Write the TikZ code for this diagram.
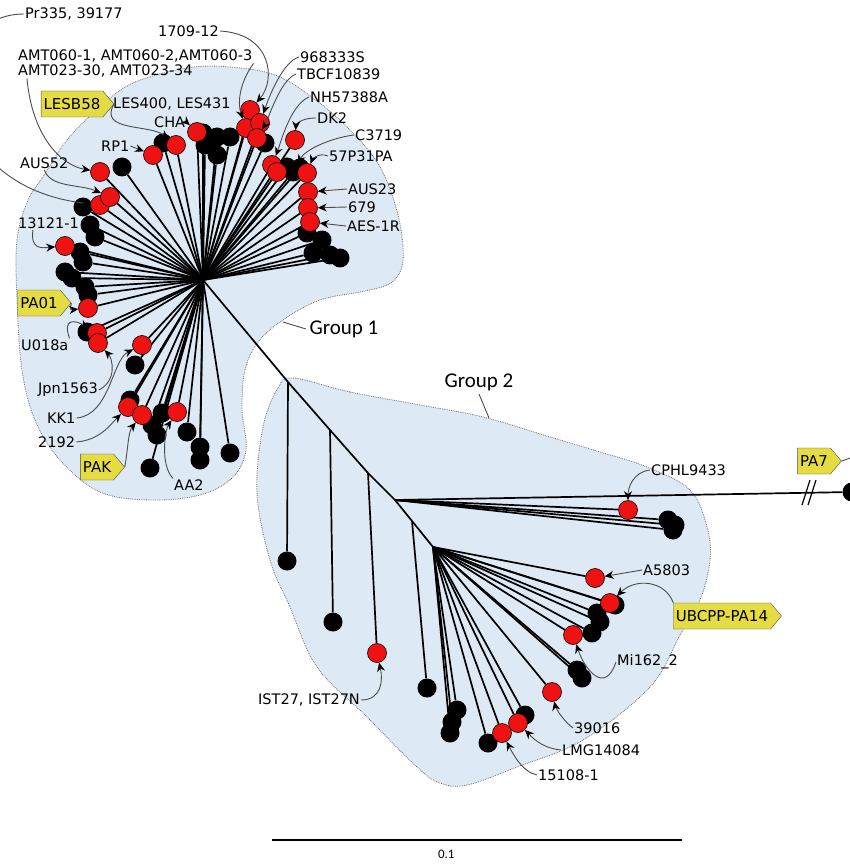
\documentclass[tikz,border=0pt]{standalone}
\usepackage{fontspec}
\setmainfont{DejaVu Sans}
\newfontfamily\grpfont{Carlito}
\usetikzlibrary{arrows.meta,backgrounds,calc,shapes.symbols}
\definecolor{blobblue}{RGB}{221,233,244}
\definecolor{leafred}{RGB}{238,18,18}
\definecolor{tagyellow}{RGB}{229,219,66}
\tikzset{
  blk/.style={circle,fill=black,inner sep=0pt,minimum size=19pt},
  rd/.style={circle,fill=leafred,draw=black,line width=0.6pt,inner sep=0pt,minimum size=19pt},
  branch/.style={line width=1.7pt},
  ptr/.style={-{Stealth[length=9pt,width=8pt,color=black]},line width=0.9pt,black!70},
  lbl/.style={font=\fontsize{14.5}{17}\selectfont,inner sep=1pt},
  tag/.style={signal,signal to=east,signal pointer angle=100,draw=black!70,fill=tagyellow,
    font=\fontsize{15}{17}\selectfont,inner xsep=2.5pt,inner ysep=3pt,minimum height=26pt},
  blob/.style={fill=blobblue,draw=black!55,densely dotted,line width=0.8pt}
}
\begin{document}
\begin{tikzpicture}[x=1pt,y=-1pt]
\useasboundingbox (0,0) rectangle (849,866);
\coordinate (R) at (203,280);
\coordinate (B1) at (288,382);
\coordinate (B2) at (330,430);
\coordinate (B3) at (368,473);
\coordinate (B4) at (395,500);
\coordinate (B5) at (412,521);
\coordinate (B6) at (433,547);
\begin{pgfonlayer}{background}
\draw[blob] plot[smooth cycle,tension=0.6] coordinates {(17,300) (17,240) (28,200) (43,177) (67,140) (100,107) (133,83) (187,68) (230,67) (275,75) (313,98) (350,130) (380,167) (398,215) (403,260) (392,282) (365,291) (320,300) (283,320) (258,342) (245,370) (242,410) (246,450) (232,478) (200,495) (150,500) (100,492) (60,460) (35,420) (22,370)};
\draw[blob] plot[smooth cycle,tension=0.6] coordinates {(293,378) (350,392) (420,405) (483,417) (550,437) (600,452) (647,467) (690,490) (707,527) (710,560) (700,600) (680,635) (650,687) (583,740) (517,767) (467,785) (440,783) (417,767) (367,717) (317,667) (290,607) (270,560) (257,493) (263,427) (278,388)};
\draw[branch] (R) -- (B1) -- (B2) -- (B3) -- (B4) -- (B5) -- (B6);
\end{pgfonlayer}
\foreach \x/\y [count=\i] in {163/143,203/133,217/137,230/137,205/145,217/155,265/143,287/167,300/168,307/233,322/240,313/253,330/255,340/258,122/167,83/207,90/225,95/237,80/252,83/262,65/272,72/278,85/287,88/295,87/332,135/365,130/400,162/413,152/425,157/435,187/432,200/447,200/460,230/453,150/468} {
  \node[blk] (k\i) at (\x,\y) {};
  \begin{pgfonlayer}{background}\draw[branch] (R) -- (k\i);\end{pgfonlayer}
}
\node[blk] (kC) at (293,172) {};
\begin{pgfonlayer}{background}\draw[branch] (R) -- (kC);\end{pgfonlayer}
\foreach \n/\x/\y in {rPr/100/205,rAUS52/110/197,rAMT2/100/172,rRP1/153/155,rLES/176/145,rCHA/197/132,r1709/250/110,rAMT6/246/128,r9683/260/123,rTB/257/138,rDK2/295/140,rNH/272/165,rNH2/277/172,r57P/307/173,rAUS23/308/192,r679/308/208,rAES/310/222,r13121/65/246,rPA01/88/308,rU018/97/333,rJpn/98/343,rKK/142/345,rKK1/128/407,r2192/142/415,rAA2/177/412} {
  \node[rd] (\n) at (\x,\y) {};
  \begin{pgfonlayer}{background}\draw[branch] (R) -- (\n);\end{pgfonlayer}
}
\foreach \x/\y/\b [count=\i] in {287/561/B1,333/622/B2,427/688/B5,457/710/B6,452/722/B6,450/733/B6,488/743/B6,525/715/B6,577/670/B6,582/678/B6,592/633/B6,600/622/B6,597/613/B6,615/605/B6,668/520/B4,675/525/B4,673/530/B4,852/492/B4} {
  \node[blk] (m\i) at (\x,\y) {};
  \begin{pgfonlayer}{background}\draw[branch] (\b) -- (m\i);\end{pgfonlayer}
}
\foreach \n/\x/\y/\b in {rCPHL/628/510/B4,rIST/377/653/B3,rA58/595/578/B6,rUBC/610/603/B6,rMi/573/635/B6,r390/552/692/B6,rLMG/518/723/B6,r151/502/733/B6} {
  \node[rd] (\n) at (\x,\y) {};
  \begin{pgfonlayer}{background}\draw[branch] (\b) -- (\n);\end{pgfonlayer}
}
\draw[line width=1.2pt] (802,505) -- (810,480) (808,505) -- (816,480);
\node[lbl,anchor=west] (lPr) at (24,14) {Pr335, 39177};
\node[lbl,anchor=west] (l1709) at (157,31) {1709-12};
\node[lbl,anchor=west] (lAMT6) at (17,56) {AMT060-1, AMT060-2,AMT060-3};
\node[lbl,anchor=west] (lAMT2) at (17,71) {AMT023-30, AMT023-34};
\node[tag] (tLESB) at (72,104) {LESB58};
\node[lbl,anchor=west] (lLES) at (112,104) {LES400, LES431};
\node[lbl,anchor=west] (lCHA) at (153,122) {CHA};
\node[lbl,anchor=west] (lRP1) at (100,146) {RP1};
\node[lbl,anchor=west] (lAUS52) at (19,163) {AUS52};
\node[lbl,anchor=west] (l13121) at (17,223) {13121-1};
\node[tag] (tPA01) at (39,303) {PA01};
\node[lbl,anchor=west] (lU018a) at (20,345) {U018a};
\node[lbl,anchor=west] (lJpn) at (37,390) {Jpn1563};
\node[lbl,anchor=west] (lKK1) at (46,418) {KK1};
\node[lbl,anchor=west] (l2192) at (37,442) {2192};
\node[tag] (tPAK) at (97,467) {PAK};
\node[lbl,anchor=west] (lAA2) at (173,485) {AA2};
\node[lbl,anchor=west] (l9683) at (299,57) {968333S};
\node[lbl,anchor=west] (lTBCF) at (296,74) {TBCF10839};
\node[lbl,anchor=west] (lNH) at (309,97) {NH57388A};
\node[lbl,anchor=west] (lDK2) at (316,118) {DK2};
\node[lbl,anchor=west] (lC37) at (354,135) {C3719};
\node[lbl,anchor=west] (l57P) at (328,156) {57P31PA};
\node[lbl,anchor=west] (lAUS23) at (347,189) {AUS23};
\node[lbl,anchor=west] (l679) at (347,207) {679};
\node[lbl,anchor=west] (lAES) at (346,226) {AES-1R};
\node[anchor=west,font=\grpfont\fontsize{21}{24}\selectfont] (lG1) at (306,329) {Group 1};
\node[font=\grpfont\fontsize{21}{24}\selectfont] (lG2) at (479,382) {Group 2};
\node[lbl,anchor=west] (lCPHL) at (650,470) {CPHL9433};
\node[lbl,anchor=west] (lA58) at (642,570) {A5803};
\node[tag] (tUBC) at (722,616) {UBCPP-PA14};
\node[lbl,anchor=west] (lMi) at (616,662) {Mi162\_2};
\node[lbl,anchor=west] (l390) at (573,728) {39016};
\node[lbl,anchor=west] (lLMG) at (561,750) {LMG14084};
\node[lbl,anchor=west] (l151) at (537,775) {15108-1};
\node[lbl,anchor=west] (lIST) at (257,700) {IST27, IST27N};
\node[tag] (tPA7) at (814,461) {PA7};
\coordinate (pa7off) at (862,454);
\coordinate (g1p) at (283,322);
\coordinate (g2p) at (489,418);
\draw[ptr] (lPr.west) .. controls (-70,14) and (-70,185) .. (rPr);
\draw[ptr] (l1709.east) .. controls (272,34) and (276,80) .. (r1709);
\draw[ptr] (lAMT6.south east) .. controls (238,85) and (238,105) .. (rAMT6);
\draw[ptr] ($(lAMT2.south west)+(10,0)$) .. controls (32,135) and (60,165) .. (rAMT2);
\draw[ptr] (tLESB.east) .. controls (98,132) and (150,124) .. (rLES);
\draw[ptr] (lCHA.east) -- (rCHA);
\draw[ptr] (lRP1.east) -- (rRP1);
\draw[ptr] (lAUS52.south) .. controls (50,188) and (80,184) .. (rAUS52);
\draw[ptr] ($(l13121.south west)+(16,0)$) .. controls (30,250) and (42,248) .. (r13121);
\draw[ptr] (tPA01.east) .. controls (70,310) .. (rPA01);
\draw[ptr] (lU018a.north east) .. controls (62,318) and (75,320) .. (rU018);
\draw[ptr] (lJpn.east) .. controls (118,380) and (112,358) .. (rJpn);
\draw[ptr] (lKK1.east) .. controls (110,415) and (112,360) .. (rKK);
\draw[ptr] (l2192.east) .. controls (100,440) and (110,425) .. (rKK1);
\draw[ptr] (tPAK.east) .. controls (128,450) and (128,432) .. (r2192);
\draw[ptr] (lAA2.north west) .. controls (160,465) and (165,430) .. (rAA2);
\draw[ptr] (l9683.west) .. controls (282,62) and (268,100) .. (r9683);
\draw[ptr] (lTBCF.west) .. controls (280,80) and (268,120) .. (rTB);
\draw[ptr] (lNH.west) .. controls (290,105) and (280,145) .. (rNH);
\draw[ptr] (lDK2.west) .. controls (300,118) and (296,125) .. (rDK2);
\draw[ptr] (lC37.west) .. controls (330,138) and (305,150) .. (kC);
\draw[ptr] (l57P.west) .. controls (318,152) and (312,160) .. (r57P);
\draw[ptr] (lAUS23.west) -- (rAUS23);
\draw[ptr] (l679.west) -- (r679);
\draw[ptr] (lAES.west) -- (rAES);
\draw[line width=0.9pt,black!70] (lG1.west) -- (g1p);
\draw[line width=0.9pt,black!70] (lG2.south) -- (g2p);
\draw[ptr] (lCPHL.west) .. controls (633,472) and (628,488) .. (rCPHL);
\draw[ptr] (lA58.west) -- (rA58);
\draw[ptr] (tUBC.north west) .. controls (665,580) and (635,578) .. (rUBC);
\draw[ptr] (lMi.west) .. controls (605,695) and (585,670) .. (rMi);
\draw[ptr] (l390.west) .. controls (560,718) and (555,705) .. (r390);
\draw[ptr] (lLMG.west) .. controls (540,748) and (530,735) .. (rLMG);
\draw[ptr] (l151.west) .. controls (522,772) and (512,752) .. (r151);
\draw[ptr] (lIST.east) .. controls (382,700) and (383,680) .. (rIST);
\draw[line width=0.9pt,black!70] (tPA7.east) -- (pa7off);
\coordinate (S1) at (272,840);
\coordinate (S2) at (682,840);
\draw[line width=1.2pt] (S1) -- node[pos=0.425,below=6pt,font=\grpfont\fontsize{13}{15}\selectfont] (lsc) {0.1} (S2);
\end{tikzpicture}
\end{document}
